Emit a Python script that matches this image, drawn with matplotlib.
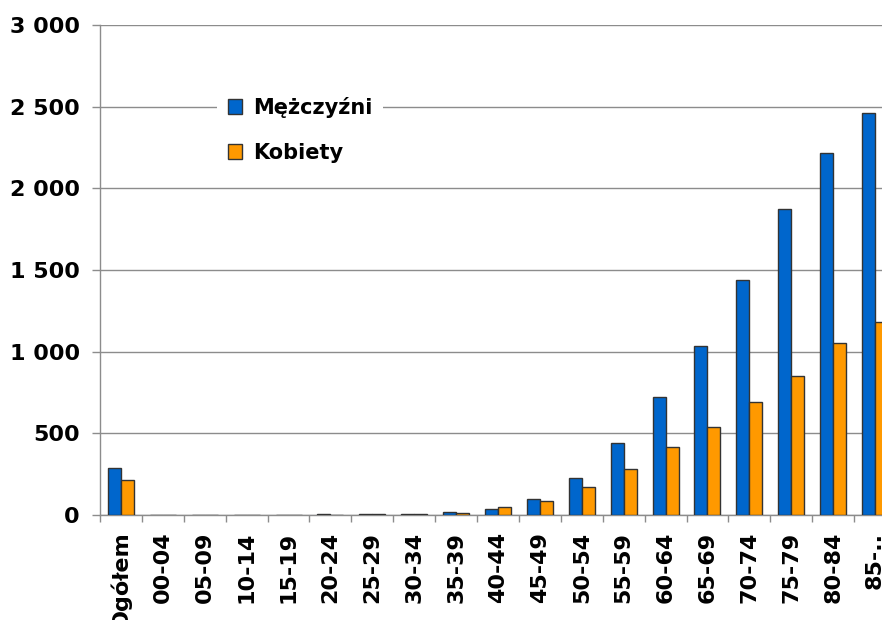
import matplotlib
matplotlib.use("Agg")
import matplotlib.pyplot as plt
import numpy as np
from matplotlib.ticker import FuncFormatter, FixedLocator

# age groups and values
categories = ["Ogółem", "00-04", "05-09", "10-14", "15-19", "20-24", "25-29",
              "30-34", "35-39", "40-44", "45-49", "50-54", "55-59", "60-64",
              "65-69", "70-74", "75-79", "80-84", "85-.."]
men = [285, 0, 0, 0, 1, 6, 8, 8, 17, 39, 98, 225, 441, 724, 1037, 1439, 1873, 2216, 2461]
women = [215, 0, 0, 0, 1, 2, 5, 6, 15, 47, 88, 173, 284, 418, 537, 694, 851, 1055, 1183]

BLUE = "#0066CC"
ORANGE = "#FF9900"
EDGE = "#333333"
GRID = "#8c8c8c"
TICK_FS = 16
LEG_FS = 15

fig = plt.figure(figsize=(8.82, 6.2), dpi=100)
# axes runs past the right edge on purpose: the reference is cropped there
ax = fig.add_axes([100 / 882, 1 - 515 / 620, 796 / 882, 490 / 620])

x = np.arange(len(categories)) + 0.5
w = 0.31
ax.bar(x - w / 2, men, width=w, color=BLUE, edgecolor=EDGE, linewidth=1.0,
       label="Mężczyźni", zorder=3)
ax.bar(x + w / 2, women, width=w, color=ORANGE, edgecolor=EDGE, linewidth=1.0,
       label="Kobiety", zorder=3)

ax.set_xlim(0, len(categories))
ax.set_ylim(0, 3000)
ax.set_yticks(np.arange(0, 3001, 500))
ax.yaxis.set_major_formatter(FuncFormatter(lambda v, _: f"{int(v):,}".replace(",", " ")))
ax.grid(axis="y", color=GRID, linewidth=1.0, zorder=0)

ax.set_xticks(x)
ax.set_xticklabels(categories, rotation=90, fontsize=TICK_FS, fontweight="bold", va="top")
ax.xaxis.set_minor_locator(FixedLocator(np.arange(0, len(categories) + 1)))
ax.tick_params(axis="x", which="major", length=0, pad=12)
ax.tick_params(axis="x", which="minor", length=5, color=GRID, width=1.0)
ax.tick_params(axis="y", length=5.5, color=GRID, width=1.0, pad=9, labelsize=TICK_FS)
for lbl in ax.get_yticklabels():
    lbl.set_fontweight("bold")

for side in ("top", "right"):
    ax.spines[side].set_visible(False)
for side in ("left", "bottom"):
    ax.spines[side].set_color(GRID)
    ax.spines[side].set_linewidth(1.0)

leg = ax.legend(loc="upper left", bbox_to_anchor=(207 / 882, 1 - 76 / 620),
                bbox_transform=fig.transFigure, frameon=True, fancybox=False,
                prop={"size": LEG_FS, "weight": "bold"}, handlelength=0.7,
                handleheight=0.7, handletextpad=0.5, labelspacing=1.2,
                borderpad=0.5, framealpha=1)
leg.get_frame().set_edgecolor("none")
leg.get_frame().set_facecolor("white")
leg.set_zorder(5)

fig.savefig("out.png", dpi=100)
